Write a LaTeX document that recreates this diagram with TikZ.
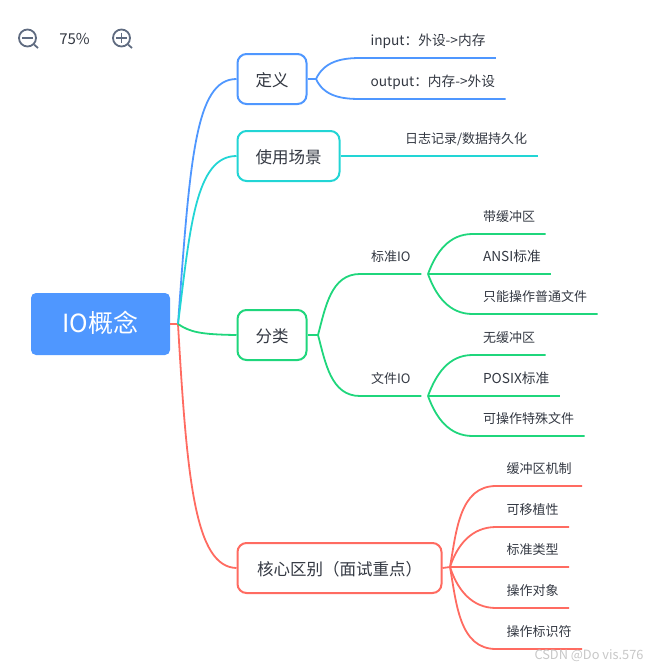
\documentclass[tikz,border=0pt]{standalone}
\usepackage{fontspec}
\setmainfont{Noto Sans CJK SC}
\usepackage{tikz}
\usetikzlibrary{positioning, calc}
\definecolor{ioblue}{HTML}{4F97FF}
\definecolor{ioteal}{HTML}{22D5D5}
\definecolor{iogreen}{HTML}{1FD67C}
\definecolor{iored}{HTML}{FF6B61}
\definecolor{iotext}{HTML}{333842}
\definecolor{ioicon}{HTML}{5F6B80}

\begin{document}
\begin{tikzpicture}[
  x=1pt, y=1pt,
  rootbox/.style={rectangle, fill=ioblue, rounded corners=5pt, minimum width=139pt, minimum height=62pt, text=white, text height=19pt, text depth=3pt, font=\fontsize{25}{28}\selectfont},
  topic/.style={rectangle, draw, fill=white, line width=2pt, rounded corners=9pt, anchor=west, inner xsep=18pt, minimum height=50pt, text height=17pt, text depth=2pt, text=iotext, font=\fontsize{16.5}{19}\selectfont},
  leaf/.style={anchor=south west, inner xsep=10.5pt, inner ysep=10pt, outer sep=0pt, text height=11pt, text depth=2.5pt, text=iotext, font=\fontsize{13}{15}\selectfont},
  wideleaf/.style={leaf, font=\fontsize{13.7}{15}\selectfont},
  branch/.style={line width=1.8pt},
  zoomicon/.style={circle, draw=ioicon, line width=1.8pt, minimum size=17pt, inner sep=0pt},
  zoomlabel/.style={text=iotext, font=\fontsize{15}{17}\selectfont},
  stamp/.style={text=black!22, font=\fontsize{12.8}{14}\selectfont}
]
  \useasboundingbox (0,0) rectangle (653,-670);

  % Zoom bar
  \node[zoomicon] (zoomout) at (27.5,-38) {};
  \node[zoomlabel] (zoomval) at (74.5,-39) {75\%};
  \node[zoomicon] (zoomin) at (121.5,-38) {};
  \coordinate (outtip) at (38,-48);
  \coordinate (intip) at (132,-48);
  \draw[ioicon, line width=1.8pt] (zoomout.south east) -- (outtip);
  \draw[ioicon, line width=1.8pt] (zoomin.south east) -- (intip);
  \draw[ioicon, line width=1.6pt] ($(zoomout.west)+(4,0)$) -- ($(zoomout.east)+(-4,0)$);
  \draw[ioicon, line width=1.6pt] ($(zoomin.west)+(4,0)$) -- ($(zoomin.east)+(-4,0)$);
  \draw[ioicon, line width=1.6pt] ($(zoomin.north)+(0,-4)$) -- ($(zoomin.south)+(0,4)$);

  % Root and topics
  \node[rootbox] (root) at (100.5,-324) {IO概念};
  \node[topic, draw=ioblue] (defn) at (236.5,-79) {定义};
  \node[topic, draw=ioteal] (usage) at (236.5,-156) {使用场景};
  \node[topic, draw=iogreen] (kinds) at (236.5,-335) {分类};
  \node[topic, draw=iored, minimum width=204pt] (diff) at (236.5,-568) {核心区别（面试重点）};
  \coordinate (roothub) at (178,-324);
  \coordinate (defnhub) at (316,-79);
  \coordinate (kindshub) at (318,-335);
  \coordinate (diffhub) at (450,-567);

  \draw[branch, iored] (root.east) -- (roothub) .. controls (187,-480) and (195,-567) .. (diff.west);
  \draw[branch, ioblue] (roothub) .. controls (190,-160) and (195,-79) .. (defn.west);
  \draw[branch, ioteal] (roothub) .. controls (190,-230) and (195,-156) .. (usage.west);
  \draw[branch, iogreen] (roothub) .. controls (190,-332) and (200,-334.5) .. (kinds.west);

  % Definition
  \node[wideleaf] (input) at (360,-58) {input：外设->内存};
  \node[wideleaf] (output) at (360,-99) {output：内存->外设};
  \draw[branch, ioblue] (defn.east) -- (defnhub);
  \foreach \kid/\turn in {input/65, output/-65}
    \draw[branch, ioblue] (defnhub) to[out=\turn, in=180] (\kid.south west) -- (\kid.south east);

  % Usage
  \node[leaf] (logging) at (394.5,-156) {日志记录/数据持久化};
  \draw[branch, ioteal] (usage.east) -- (logging.south west) -- (logging.south east);

  % Kinds
  \node[leaf, inner xsep=11pt] (stdio) at (360,-274) {标准IO};
  \node[leaf, inner xsep=11pt] (fileio) at (360,-396) {文件IO};
  \coordinate (stdhub) at (428,-274);
  \coordinate (filehub) at (428,-396);
  \draw[branch, iogreen] (kinds.east) -- (kindshub);
  \foreach \kid/\turn in {stdio/75, fileio/-75}
    \draw[branch, iogreen] (kindshub) to[out=\turn, in=180] (\kid.south west) -- (\kid.south east);

  \node[leaf] (buffered) at (472.5,-234) {带缓冲区};
  \node[wideleaf] (ansi) at (472.5,-274) {ANSI标准};
  \node[leaf] (regular) at (472.5,-314) {只能操作普通文件};
  \node[leaf] (unbuffered) at (472.5,-355) {无缓冲区};
  \node[wideleaf] (posix) at (472.5,-396) {POSIX标准};
  \node[leaf] (special) at (472.5,-436) {可操作特殊文件};
  \foreach \kid/\turn in {buffered/70, regular/-70}
    \draw[branch, iogreen] (stdhub) to[out=\turn, in=180] (\kid.south west) -- (\kid.south east);
  \draw[branch, iogreen] (stdhub) -- (ansi.south west) -- (ansi.south east);
  \foreach \kid/\turn in {unbuffered/70, special/-70}
    \draw[branch, iogreen] (filehub) to[out=\turn, in=180] (\kid.south west) -- (\kid.south east);
  \draw[branch, iogreen] (filehub) -- (posix.south west) -- (posix.south east);

  % Differences
  \node[leaf] (bufmech) at (496,-486) {缓冲区机制};
  \node[leaf] (portable) at (496,-527) {可移植性};
  \node[leaf] (stdtype) at (496,-567) {标准类型};
  \node[leaf] (target) at (496,-608) {操作对象};
  \node[leaf] (handle) at (496,-649) {操作标识符};
  \draw[branch, iored] (diff.east) -- (diffhub) -- (stdtype.south west) -- (stdtype.south east);
  \foreach \kid/\turn in {bufmech/80, portable/72, target/-72, handle/-80}
    \draw[branch, iored] (diffhub) to[out=\turn, in=180] (\kid.south west) -- (\kid.south east);

  \node[stamp, anchor=east] (credit) at (647,-656) {CSDN @Do vis.576};
\end{tikzpicture}
\end{document}
